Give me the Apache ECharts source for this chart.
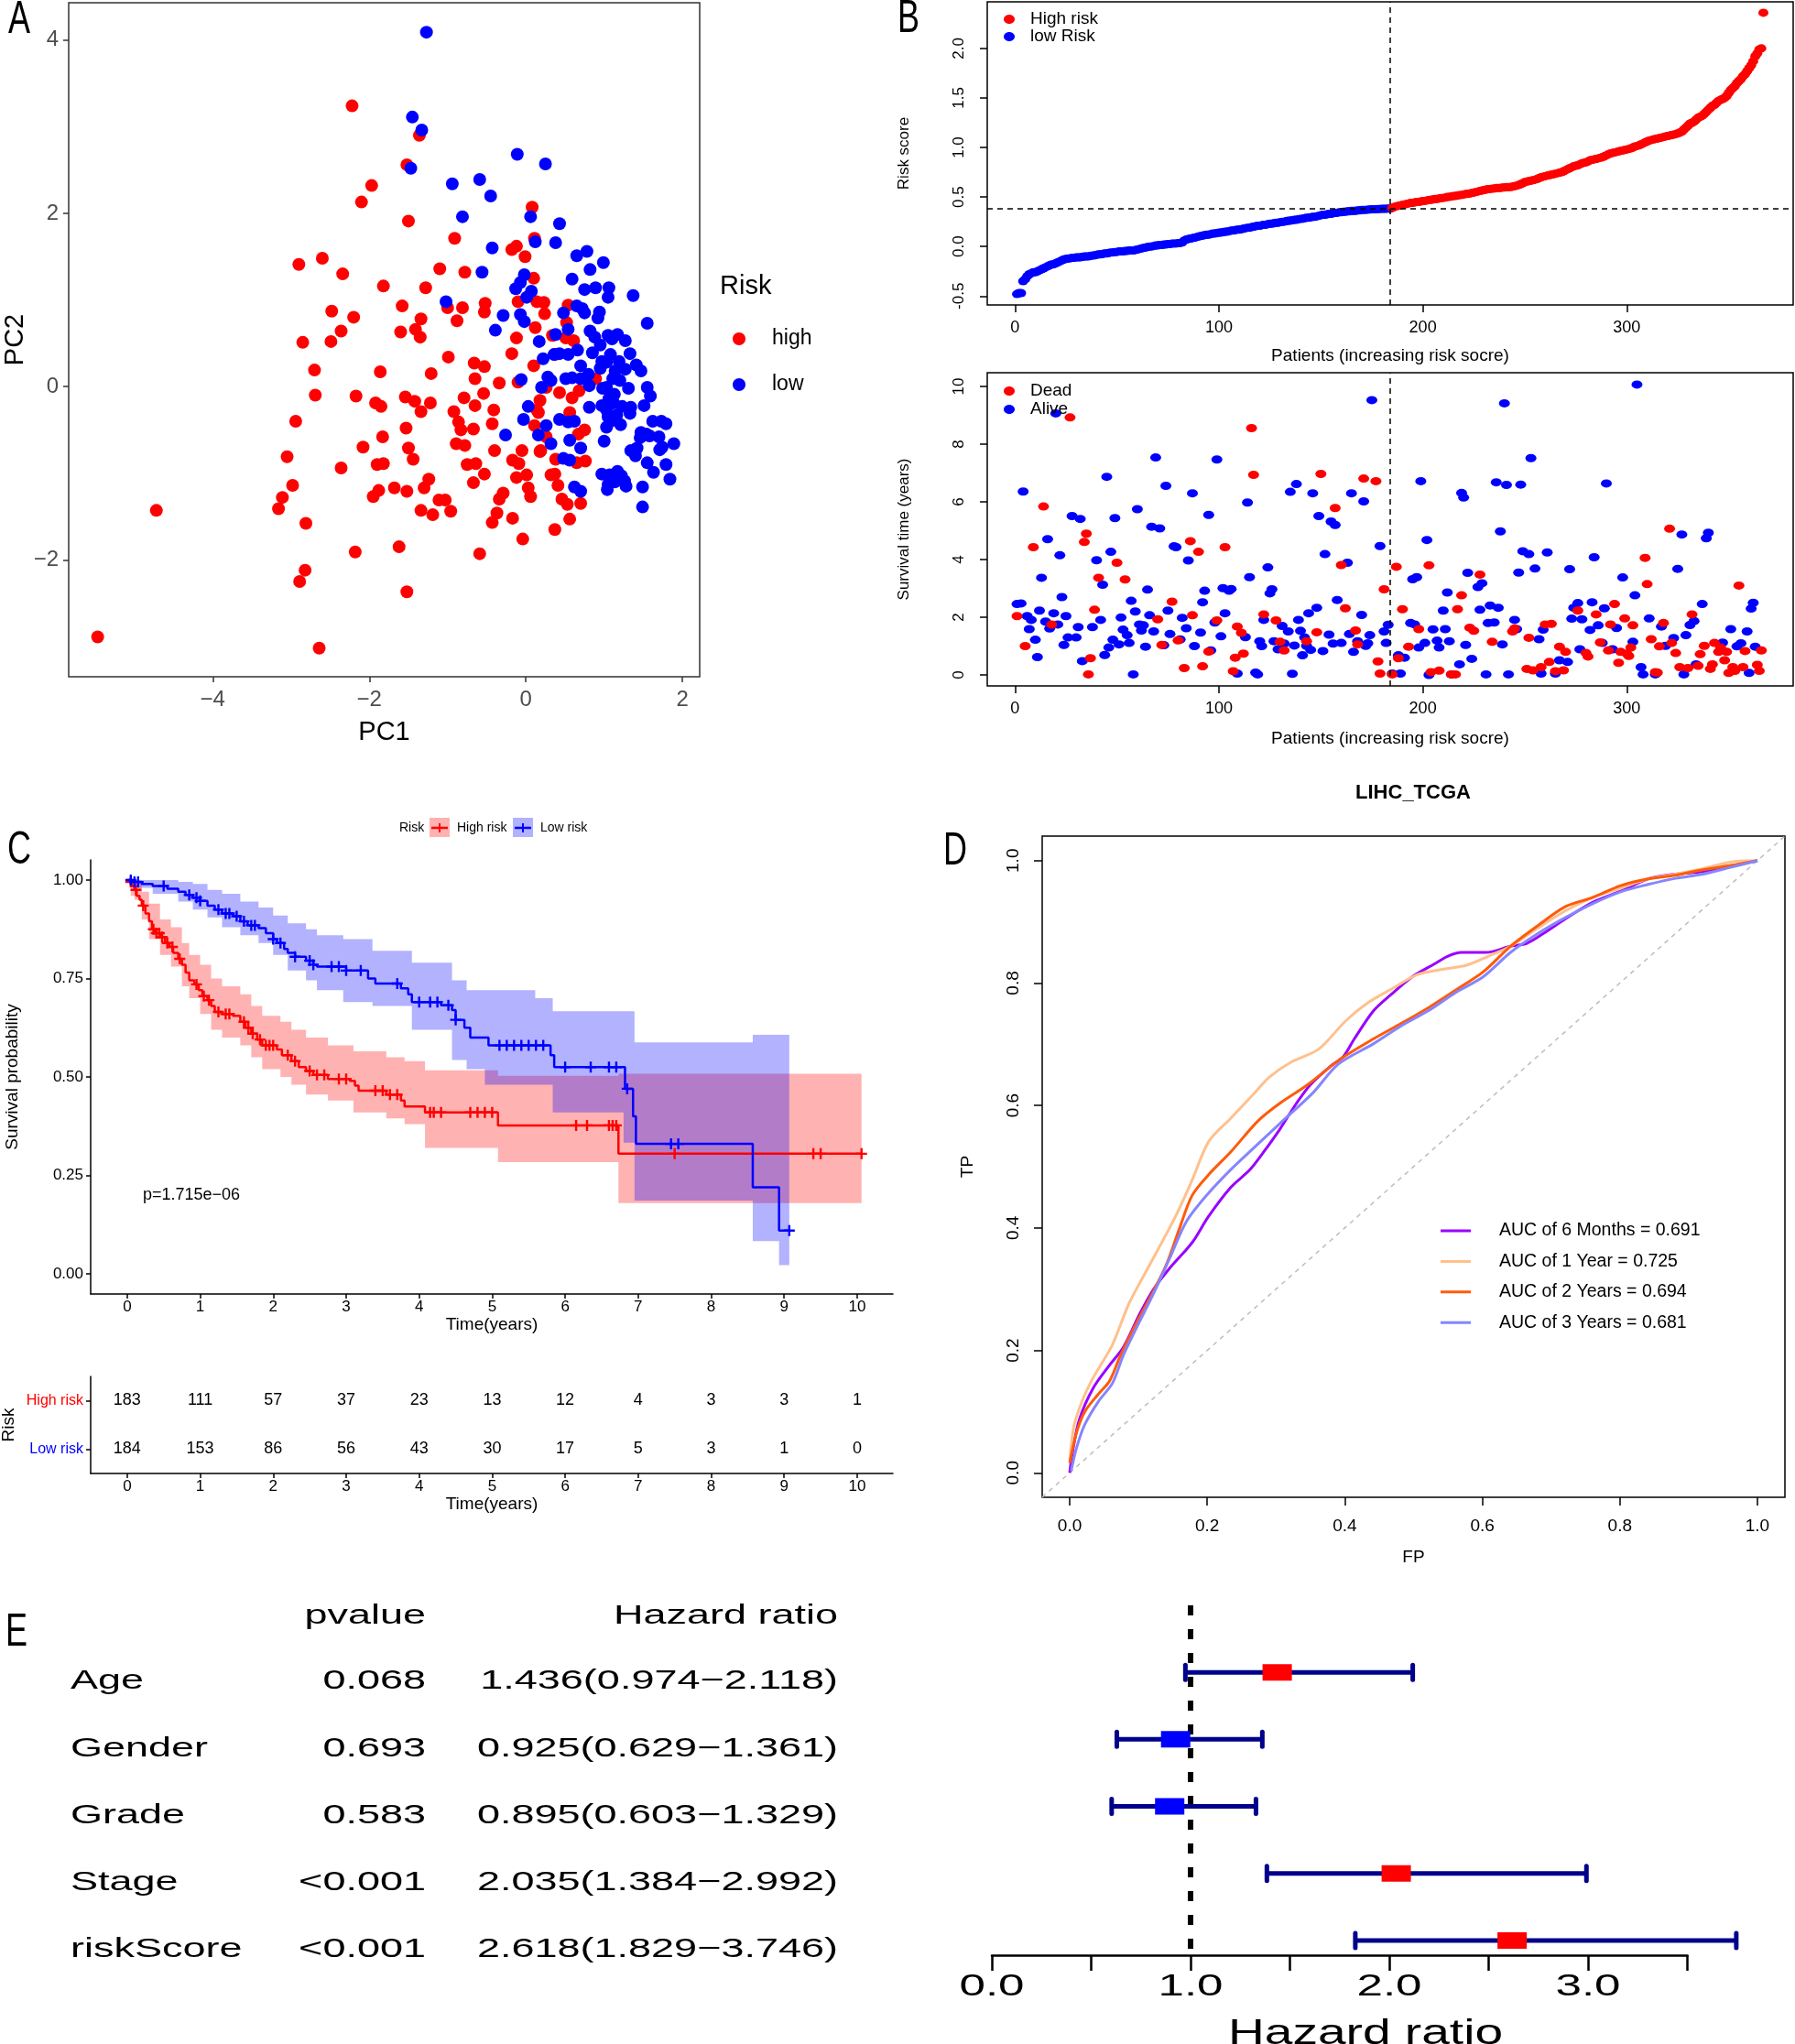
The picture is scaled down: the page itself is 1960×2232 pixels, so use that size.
<!DOCTYPE html>
<html>
<head>
<meta charset="utf-8">
<script src="https://cdn.jsdelivr.net/npm/echarts@6.0.0/dist/echarts.min.js"></script>
<style>
  html, body { margin: 0; padding: 0; background: #fff; }
  #main { width: 1960px; height: 2232px; }
</style>
</head>
<body>
<div id="main"></div>
<script>
var FONT = '"Liberation Sans", Arial, sans-serif';
var RED = '#ff0000', BLUE = '#0000ff';

// ---------- A: PCA ----------
var pcaHigh = [[-5.47,-2.89],[-4.72,-1.43],[-2.64,-3.02],[-2.22,3.24],[-1.36,2.90],[-1.52,2.56],[-1.97,2.32],[-2.10,2.13],[-1.50,1.91],[-0.91,1.71],[-2.90,1.41],[-2.60,1.48],[-2.34,1.30],[-1.82,1.16],[-1.28,1.14],[-1.10,1.36],[-0.78,1.32],[-2.48,0.87],[-2.20,0.80],[-2.36,0.64],[-2.49,0.52],[-2.85,0.51],[-1.58,0.93],[-1.34,0.78],[-1.41,0.66],[-1.60,0.63],[-1.35,0.57],[-1.00,0.91],[-0.81,0.91],[-0.88,0.76],[-0.52,0.96],[-0.53,0.86],[-0.99,0.34],[-0.66,0.27],[-0.53,0.23],[-0.65,0.09],[-0.34,0.04],[-1.21,0.15],[-1.86,0.17],[-2.70,0.19],[-2.69,-0.10],[-2.17,-0.11],[-1.92,-0.19],[-1.85,-0.23],[-1.54,-0.12],[-1.42,-0.17],[-1.22,-0.19],[-1.34,-0.29],[-0.92,-0.29],[-0.79,-0.13],[-0.65,-0.22],[-0.54,-0.08],[-0.41,-0.27],[-0.43,-0.43],[-0.86,-0.41],[-0.83,-0.50],[-0.67,-0.49],[-1.53,-0.48],[-2.94,-0.40],[-1.83,-0.58],[-2.08,-0.70],[-1.50,-0.71],[-1.44,-0.84],[-0.89,-0.66],[-0.78,-0.68],[-0.40,-0.74],[-0.05,-0.74],[-3.05,-0.81],[-2.36,-0.94],[-1.90,-0.90],[-1.82,-0.89],[-0.75,-0.90],[-0.64,-0.89],[-0.53,-1.01],[-0.17,-0.85],[-0.09,-0.89],[-0.12,-1.05],[0.01,-1.02],[0.18,-0.75],[-2.98,-1.14],[-3.11,-1.28],[-3.16,-1.41],[-2.81,-1.58],[-1.95,-1.27],[-1.88,-1.20],[-1.68,-1.17],[-1.52,-1.21],[-1.30,-1.17],[-1.24,-1.07],[-1.11,-1.31],[-1.03,-1.31],[-1.34,-1.43],[-1.19,-1.48],[-0.96,-1.44],[-0.67,-1.11],[-0.34,-1.30],[-0.29,-1.23],[-0.37,-1.46],[-0.43,-1.57],[-0.17,-1.52],[0.03,-1.17],[0.06,-1.27],[0.32,-1.02],[0.37,-1.01],[0.41,-1.14],[0.46,-1.30],[0.53,-1.36],[0.70,-1.35],[0.56,-1.53],[0.37,-1.65],[-0.04,-1.76],[-0.59,-1.93],[-1.62,-1.85],[-2.18,-1.91],[-2.82,-2.12],[-2.89,-2.25],[-1.52,-2.37],[0.08,2.07],[0.11,1.71],[-0.12,1.62],[-0.18,1.58],[-0.01,1.50],[0.10,1.25],[-0.10,0.98],[0.14,0.98],[0.23,0.97],[0.24,0.84],[0.12,0.68],[0.54,0.94],[0.52,0.74],[-0.12,0.56],[-0.18,0.38],[0.34,0.59],[0.51,0.56],[0.61,0.53],[0.10,0.24],[0.37,0.37],[-0.10,0.05],[0.26,-0.01],[0.43,-0.07],[0.59,-0.13],[0.68,-0.05],[0.89,0.09],[0.18,-0.16],[0.56,-0.30],[0.14,-0.27],[0.11,-0.45],[0.16,-0.30],[0.67,-0.55],[0.75,-0.50],[0.26,-0.58],[0.76,-0.86],[0.19,-0.74],[0.38,-0.84],[0.65,-0.88]];
var pcaLow = [[-1.27,4.09],[-1.45,3.11],[-1.33,2.96],[-1.47,2.52],[-0.94,2.34],[-0.59,2.39],[-0.45,2.20],[-0.81,1.96],[-0.11,2.68],[0.25,2.57],[0.06,1.96],[0.43,1.88],[-0.43,1.60],[0.38,1.66],[0.12,1.67],[-0.56,1.32],[0.65,1.51],[0.78,1.56],[0.99,1.43],[0.82,1.35],[0.59,1.24],[0.75,1.12],[0.89,1.14],[1.06,1.14],[1.05,1.03],[1.37,1.05],[1.55,0.73],[-0.02,1.29],[-0.07,1.20],[-0.13,1.13],[0.07,1.10],[0.01,1.03],[-1.02,0.98],[-0.29,0.82],[-0.39,0.65],[-0.07,0.83],[-0.02,0.75],[0.65,0.93],[0.72,0.90],[0.75,0.85],[0.48,0.85],[0.94,0.86],[0.92,0.79],[0.54,0.66],[0.38,0.60],[0.82,0.64],[0.88,0.57],[0.95,0.48],[1.05,0.59],[1.17,0.60],[1.27,0.53],[1.10,0.55],[0.17,0.52],[0.22,0.32],[0.36,0.37],[0.43,0.38],[0.54,0.37],[0.66,0.42],[0.85,0.39],[1.08,0.37],[1.33,0.38],[0.97,0.29],[1.03,0.28],[1.19,0.29],[1.41,0.25],[1.47,0.18],[1.27,0.20],[1.14,0.18],[0.70,0.24],[0.80,0.14],[0.95,0.21],[0.28,0.11],[0.32,0.07],[0.51,0.09],[0.59,0.10],[0.70,0.09],[1.11,0.09],[1.20,0.07],[0.81,0.01],[1.03,-0.01],[1.31,-0.02],[1.55,-0.01],[1.59,-0.11],[1.06,-0.14],[1.13,-0.09],[1.12,-0.19],[1.23,-0.23],[1.34,-0.24],[1.51,-0.22],[0.81,-0.24],[0.97,-0.22],[1.03,-0.27],[1.05,-0.35],[1.16,-0.33],[1.33,-0.31],[1.08,-0.40],[1.21,-0.44],[1.03,-0.47],[1.62,-0.40],[1.73,-0.40],[1.79,-0.43],[1.47,-0.53],[1.54,-0.55],[1.58,-0.57],[1.70,-0.58],[1.46,-0.59],[1.89,-0.66],[1.74,-0.70],[1.42,-0.71],[1.34,-0.74],[1.40,-0.80],[1.71,-0.73],[1.55,-0.88],[1.79,-0.90],[1.63,-0.99],[1.84,-1.07],[0.97,-1.01],[1.07,-1.02],[1.17,-0.98],[1.22,-1.03],[1.05,-1.13],[1.14,-1.10],[1.26,-1.09],[1.04,-1.19],[1.49,-1.16],[1.28,-1.15],[1.49,-1.39],[0.70,-1.21],[0.62,-1.16],[-0.03,-0.38],[-0.26,-0.56],[0.16,-0.56],[0.26,-0.45],[0.32,-0.66],[0.43,-0.38],[0.54,-0.41],[0.62,-0.40],[1.00,-0.63],[0.56,-0.62],[0.70,-0.71],[0.48,-0.83],[0.56,-0.85],[0.20,-0.01],[-0.06,0.08],[0.03,-0.23],[0.98,-0.02]];
var pcaXTicks = [-4, -2, 0, 2];
var pcaYTicks = [-2, 0, 2, 4];

// ---------- B: risk score and survival status ----------
var riskLow = [-0.48,-0.47,-0.47,-0.35,-0.33,-0.30,-0.28,-0.27,-0.26,-0.26,
  -0.25,-0.24,-0.23,-0.22,-0.21,-0.20,-0.19,-0.18,-0.18,-0.17,
  -0.16,-0.15,-0.14,-0.13,-0.125,-0.12,-0.12,-0.115,-0.115,-0.11,
  -0.11,-0.11,-0.105,-0.10,-0.10,-0.10,-0.095,-0.09,-0.09,-0.085,
  -0.08,-0.08,-0.075,-0.07,-0.07,-0.065,-0.06,-0.06,-0.055,-0.055,
  -0.05,-0.05,-0.05,-0.045,-0.045,-0.04,-0.04,-0.04,-0.035,-0.03,
  -0.025,-0.02,-0.015,-0.01,-0.005,0.0,0.0,0.005,0.01,0.01,
  0.015,0.015,0.02,0.02,0.025,0.025,0.03,0.03,0.03,0.035,
  0.035,0.04,0.06,0.07,0.075,0.08,0.085,0.09,0.095,0.10,
  0.105,0.11,0.115,0.12,0.12,0.125,0.13,0.13,0.135,0.14,
  0.14,0.145,0.15,0.15,0.155,0.16,0.16,0.165,0.17,0.17,
  0.175,0.18,0.185,0.19,0.19,0.195,0.20,0.205,0.21,0.21,
  0.215,0.22,0.22,0.225,0.23,0.23,0.235,0.24,0.24,0.245,
  0.25,0.25,0.255,0.26,0.26,0.265,0.27,0.27,0.275,0.28,
  0.28,0.285,0.29,0.29,0.295,0.30,0.30,0.305,0.31,0.315,
  0.32,0.32,0.325,0.33,0.33,0.335,0.34,0.34,0.345,0.345,
  0.35,0.35,0.355,0.355,0.36,0.36,0.36,0.365,0.365,0.37,
  0.37,0.37,0.372,0.374,0.375,0.376,0.377,0.378,0.379,0.38,
  0.38,0.381,0.382,0.383];
var riskHigh = [0.39,0.40,0.405,0.41,0.415,0.42,0.425,0.43,0.435,0.44,
  0.44,0.445,0.45,0.45,0.455,0.46,0.46,0.465,0.47,0.47,
  0.475,0.48,0.48,0.485,0.49,0.49,0.495,0.50,0.50,0.505,
  0.51,0.51,0.515,0.52,0.52,0.525,0.53,0.53,0.535,0.54,
  0.545,0.55,0.555,0.56,0.565,0.57,0.575,0.58,0.58,0.585,
  0.585,0.59,0.59,0.59,0.595,0.595,0.60,0.60,0.60,0.605,
  0.61,0.615,0.62,0.63,0.64,0.65,0.655,0.66,0.665,0.67,
  0.675,0.68,0.69,0.70,0.705,0.71,0.715,0.72,0.725,0.73,
  0.735,0.74,0.745,0.75,0.76,0.77,0.78,0.79,0.80,0.81,
  0.815,0.82,0.83,0.84,0.845,0.85,0.86,0.87,0.875,0.88,
  0.885,0.89,0.895,0.90,0.91,0.92,0.93,0.94,0.945,0.95,
  0.955,0.96,0.965,0.97,0.975,0.98,0.985,0.99,1.00,1.01,
  1.015,1.02,1.03,1.04,1.05,1.06,1.07,1.075,1.08,1.085,
  1.09,1.095,1.10,1.105,1.11,1.115,1.12,1.125,1.13,1.135,
  1.14,1.15,1.16,1.18,1.20,1.22,1.24,1.25,1.26,1.28,
  1.30,1.31,1.32,1.34,1.36,1.38,1.40,1.42,1.43,1.45,
  1.47,1.48,1.49,1.50,1.52,1.55,1.58,1.60,1.62,1.65,
  1.67,1.69,1.72,1.74,1.77,1.80,1.83,1.87,1.92,1.95,
  1.99,2.0,2.36];
var survAlive = [[1,2.46],[3,2.48],[4,6.36],[6,2.04],[7,1.59],[8,1.91],[10,1.22],[11,0.62],[12,2.23],[13,3.37],[15,1.85],[16,4.71],[17,1.61],[19,2.14],[20,9.07],[21,1.75],[22,4.15],[23,2.70],[24,1.04],[25,2.04],[26,1.30],[28,5.51],[30,1.30],[31,1.66],[32,5.41],[33,0.48],[38,1.66],[40,3.98],[42,1.91],[43,3.13],[44,0.69],[45,6.87],[46,0.95],[47,4.27],[48,1.22],[49,5.44],[51,1.06],[52,1.99],[53,1.57],[55,1.38],[56,1.11],[57,2.57],[58,0.02],[59,2.20],[60,5.75],[61,1.75],[62,1.54],[63,1.72],[64,0.98],[65,2.96],[66,2.07],[67,5.14],[68,1.51],[69,7.54],[71,5.08],[73,1.03],[74,6.56],[75,2.23],[76,1.42],[78,4.46],[79,4.43],[81,1.23],[82,1.98],[84,1.62],[85,3.97],[87,6.30],[88,1.00],[91,1.47],[92,2.52],[93,2.92],[95,5.55],[96,0.85],[98,1.82],[99,7.47],[101,1.34],[102,3.01],[103,2.14],[105,2.92],[106,2.98],[109,0.05],[113,1.31],[114,5.98],[115,3.39],[118,0.08],[119,0.02],[120,1.17],[121,1.00],[122,1.91],[124,3.73],[125,2.83],[126,2.97],[127,1.17],[129,0.89],[131,1.70],[132,1.09],[134,1.51],[135,6.35],[136,0.04],[137,1.02],[138,6.62],[139,1.91],[140,1.53],[141,0.68],[142,1.30],[143,1.01],[144,2.14],[145,0.87],[146,6.30],[148,2.33],[149,5.51],[151,0.83],[152,4.19],[154,1.40],[155,5.32],[156,1.09],[157,5.20],[158,2.60],[160,1.11],[163,3.89],[164,1.42],[165,6.30],[166,0.80],[168,1.17],[170,2.08],[171,6.02],[172,1.01],[173,1.10],[174,1.38],[175,9.53],[179,4.47],[181,1.51],[182,1.11],[183,1.74],[185,0.05],[188,0.68],[189,0.05],[191,0.60],[194,1.80],[195,3.32],[196,1.75],[197,3.39],[198,0.95],[199,6.72],[201,1.11],[202,4.68],[203,0.00],[205,1.58],[207,1.19],[208,0.95],[210,2.23],[211,1.59],[212,2.86],[213,1.17],[214,0.02],[218,0.37],[219,6.31],[220,6.15],[221,1.04],[222,3.54],[224,0.56],[227,3.05],[228,2.26],[229,3.18],[231,0.02],[232,1.80],[233,2.41],[235,1.82],[236,6.68],[237,2.33],[238,4.98],[239,1.06],[240,9.42],[241,6.59],[242,0.02],[245,1.91],[246,1.59],[247,3.55],[248,6.60],[249,4.29],[252,4.19],[253,7.52],[255,3.69],[257,1.24],[258,0.05],[259,1.57],[261,4.25],[265,0.05],[267,0.51],[271,0.45],[272,3.67],[273,1.95],[274,2.33],[276,2.49],[277,0.89],[278,1.93],[282,1.56],[283,2.52],[284,4.08],[286,1.72],[288,1.11],[289,2.31],[290,6.64],[293,0.89],[295,1.63],[298,3.38],[303,1.15],[304,2.76],[305,10.07],[307,0.27],[308,0.02],[311,1.96],[314,0.02],[317,1.68],[319,1.01],[323,1.28],[325,3.68],[327,4.87],[328,0.02],[329,1.38],[331,1.73],[333,1.87],[334,0.37],[337,2.46],[339,4.74],[340,4.93],[347,1.12],[351,1.59],[354,0.99],[356,1.10],[359,1.51],[360,0.07],[361,2.30],[362,2.50],[363,0.98]];
var survDead = [[1,2.04],[5,1.00],[9,4.43],[14,5.84],[18,1.75],[27,8.93],[34,4.61],[35,4.90],[36,0.02],[37,0.58],[39,2.26],[41,3.37],[50,3.89],[54,3.31],[70,1.93],[72,1.04],[77,2.54],[80,1.20],[83,0.24],[86,4.64],[87,2.07],[90,4.27],[92,0.30],[95,0.81],[99,1.89],[103,4.43],[107,0.13],[108,0.60],[109,1.68],[111,1.46],[112,0.74],[116,8.56],[117,6.94],[122,2.10],[128,1.89],[130,1.15],[132,0.85],[143,1.17],[148,1.48],[150,6.97],[157,5.79],[160,3.81],[162,2.31],[167,1.54],[168,1.06],[171,6.81],[177,6.72],[178,0.47],[179,0.05],[181,2.97],[185,0.02],[187,3.75],[188,0.58],[190,2.28],[193,0.98],[198,1.59],[203,3.80],[204,0.10],[208,0.15],[214,0.02],[216,0.02],[217,2.28],[219,2.76],[223,1.64],[225,1.53],[228,3.48],[234,1.15],[244,1.51],[245,1.61],[251,0.21],[252,1.29],[254,0.16],[258,0.27],[260,1.75],[262,0.45],[263,1.77],[265,0.13],[267,0.98],[269,0.16],[270,0.80],[276,2.23],[280,0.76],[281,0.64],[285,2.10],[287,1.13],[291,0.85],[292,1.75],[294,2.46],[296,0.42],[297,0.80],[299,1.96],[300,0.74],[301,0.66],[302,0.95],[303,1.72],[309,4.06],[310,3.15],[312,1.24],[314,0.10],[315,0.08],[316,0.99],[318,1.80],[321,5.07],[322,1.11],[324,0.76],[326,0.27],[330,0.24],[332,2.10],[335,0.32],[336,0.72],[338,1.01],[341,0.21],[342,0.37],[343,1.11],[345,0.80],[346,0.95],[348,0.51],[349,0.80],[350,0.07],[352,0.27],[353,0.14],[355,3.10],[357,0.27],[358,0.83],[364,0.35],[365,0.14],[366,0.85]];
var patientTicks = [0, 100, 200, 300];
var riskTicks = [-0.5, 0, 0.5, 1, 1.5, 2];
var survTicks = [0, 2, 4, 6, 8, 10];

// ---------- C: Kaplan-Meier ----------
var kmHigh = [[0,1],[0.03,0.995],[0.06,0.985],[0.1,0.975],[0.13,0.96],[0.17,0.95],[0.2,0.935],[0.25,0.915],[0.3,0.895],[0.34,0.875],[0.38,0.865],[0.45,0.855],[0.52,0.84],[0.58,0.83],[0.63,0.815],[0.7,0.80],[0.75,0.785],[0.8,0.765],[0.85,0.745],[0.92,0.735],[0.98,0.72],[1.03,0.705],[1.1,0.695],[1.15,0.68],[1.2,0.665],[1.3,0.66],[1.45,0.655],[1.55,0.64],[1.62,0.625],[1.7,0.61],[1.78,0.595],[1.85,0.58],[2.05,0.57],[2.12,0.555],[2.25,0.54],[2.35,0.525],[2.45,0.515],[2.55,0.505],[2.75,0.495],[3.05,0.49],[3.12,0.478],[3.17,0.465],[3.55,0.455],[3.75,0.44],[3.8,0.425],[4.08,0.41],[5.08,0.377],[6.73,0.305],[10.06,0.305]];
var kmLow = [[0,1],[0.08,0.995],[0.2,0.99],[0.35,0.985],[0.55,0.978],[0.7,0.97],[0.8,0.962],[0.9,0.955],[1.0,0.947],[1.1,0.935],[1.2,0.925],[1.3,0.915],[1.45,0.908],[1.55,0.895],[1.65,0.885],[1.8,0.878],[1.9,0.865],[2.0,0.85],[2.05,0.84],[2.15,0.825],[2.2,0.815],[2.3,0.805],[2.45,0.795],[2.55,0.785],[2.6,0.78],[3.0,0.77],[3.3,0.75],[3.4,0.737],[3.75,0.725],[3.85,0.71],[3.9,0.69],[4.3,0.682],[4.45,0.67],[4.5,0.645],[4.62,0.625],[4.7,0.60],[4.95,0.58],[5.8,0.555],[5.85,0.525],[6.82,0.47],[6.93,0.40],[6.97,0.33],[8.57,0.22],[8.93,0.11],[9.07,0.11]];
// [time, lower, upper]
var ciHigh = [[0,1,1],[0.05,0.96,1.0],[0.1,0.95,0.99],[0.2,0.90,0.97],[0.3,0.85,0.94],[0.45,0.81,0.90],[0.6,0.78,0.88],[0.75,0.73,0.84],[0.85,0.70,0.81],[1.0,0.66,0.785],[1.15,0.62,0.75],[1.3,0.60,0.73],[1.55,0.58,0.71],[1.7,0.55,0.68],[1.85,0.52,0.655],[2.1,0.50,0.64],[2.25,0.48,0.62],[2.45,0.455,0.60],[2.75,0.44,0.58],[3.1,0.41,0.565],[3.55,0.395,0.55],[3.8,0.38,0.54],[4.08,0.32,0.517],[5.08,0.284,0.503],[6.73,0.18,0.508],[10.06,0.18,0.508]];
var ciLow = [[0,1,1],[0.08,0.98,1.0],[0.35,0.965,1.0],[0.7,0.945,0.995],[0.9,0.925,0.99],[1.1,0.905,0.975],[1.3,0.88,0.965],[1.55,0.86,0.945],[1.8,0.84,0.93],[2.0,0.81,0.91],[2.2,0.77,0.89],[2.45,0.745,0.875],[2.6,0.72,0.86],[2.96,0.69,0.85],[3.36,0.68,0.82],[3.9,0.62,0.79],[4.45,0.543,0.745],[4.65,0.52,0.72],[4.9,0.48,0.72],[5.59,0.48,0.70],[5.83,0.41,0.667],[6.8,0.333,0.667],[6.95,0.186,0.588],[8.57,0.083,0.607],[8.93,0.022,0.607],[9.07,0.022,0.607]];
var censorHigh = [0.05,0.12,0.22,0.36,0.4,0.44,0.48,0.55,0.62,0.72,0.95,1.05,1.12,1.25,1.35,1.4,1.6,1.66,1.72,1.82,1.9,1.95,2.0,2.2,2.3,2.5,2.6,2.7,2.9,3.0,3.4,3.5,3.6,3.7,4.15,4.2,4.3,4.7,4.8,4.9,5.0,6.15,6.3,6.6,6.65,6.7,7.5,9.4,9.5,10.06];
var censorLow = [0.05,0.1,0.15,0.5,0.85,0.95,1.0,1.25,1.35,1.4,1.5,1.6,1.7,1.75,2.0,2.1,2.3,2.5,2.55,2.8,2.9,3.0,3.2,3.7,4.0,4.15,4.25,4.4,4.5,5.1,5.2,5.3,5.4,5.5,5.6,5.7,6.0,6.35,6.6,6.7,6.85,7.45,7.55,9.07];
var kmTimes = [0,1,2,3,4,5,6,7,8,9,10];
var atRiskHigh = [183,111,57,37,23,13,12,4,3,3,1];
var atRiskLow = [184,153,86,56,43,30,17,5,3,1,0];
var kmYTicks = [0, 0.25, 0.5, 0.75, 1];
var riskGroups = ['High risk', 'Low risk'];
var pText = 'p=1.715e\u221206';

// ---------- D: ROC ----------
var roc6m = [[0,0],[0.004,0.033],[0.014,0.087],[0.034,0.138],[0.058,0.176],[0.078,0.205],[0.102,0.26],[0.122,0.30],[0.146,0.335],[0.166,0.36],[0.18,0.379],[0.202,0.419],[0.234,0.466],[0.262,0.495],[0.282,0.524],[0.306,0.562],[0.33,0.604],[0.35,0.634],[0.378,0.663],[0.398,0.68],[0.414,0.709],[0.442,0.755],[0.466,0.78],[0.498,0.81],[0.53,0.831],[0.55,0.844],[0.57,0.85],[0.605,0.85],[0.641,0.86],[0.665,0.865],[0.689,0.881],[0.721,0.905],[0.761,0.932],[0.801,0.95],[0.841,0.97],[0.881,0.978],[0.921,0.982],[0.961,0.991],[1,1]];
var roc1y = [[0,0.02],[0.006,0.075],[0.018,0.117],[0.034,0.155],[0.062,0.209],[0.086,0.276],[0.114,0.335],[0.154,0.419],[0.178,0.478],[0.202,0.541],[0.234,0.579],[0.266,0.617],[0.29,0.646],[0.322,0.671],[0.362,0.692],[0.402,0.739],[0.434,0.768],[0.466,0.789],[0.506,0.814],[0.546,0.823],[0.577,0.829],[0.609,0.844],[0.641,0.86],[0.681,0.89],[0.721,0.918],[0.761,0.94],[0.801,0.955],[0.841,0.97],[0.881,0.978],[0.921,0.987],[0.969,0.999],[1,1]];
var roc2y = [[0,0.016],[0.01,0.066],[0.022,0.10],[0.042,0.129],[0.058,0.15],[0.074,0.192],[0.098,0.247],[0.122,0.297],[0.142,0.344],[0.158,0.394],[0.178,0.453],[0.202,0.487],[0.234,0.524],[0.274,0.575],[0.306,0.604],[0.346,0.634],[0.394,0.676],[0.442,0.709],[0.482,0.734],[0.522,0.76],[0.562,0.789],[0.601,0.818],[0.641,0.86],[0.681,0.894],[0.721,0.925],[0.761,0.94],[0.801,0.959],[0.841,0.97],[0.881,0.976],[0.921,0.985],[0.961,0.992],[1,1]];
var roc3y = [[0.002,0.003],[0.01,0.041],[0.022,0.079],[0.042,0.117],[0.062,0.146],[0.078,0.192],[0.098,0.239],[0.122,0.293],[0.146,0.352],[0.17,0.411],[0.202,0.457],[0.234,0.495],[0.266,0.529],[0.306,0.571],[0.354,0.621],[0.39,0.667],[0.442,0.701],[0.482,0.73],[0.522,0.755],[0.562,0.785],[0.601,0.81],[0.641,0.85],[0.681,0.881],[0.721,0.907],[0.761,0.93],[0.801,0.949],[0.841,0.961],[0.881,0.971],[0.921,0.978],[0.961,0.989],[1,1]];
var rocNames = ['AUC of 6 Months = 0.691', 'AUC of 1 Year = 0.725', 'AUC of 2 Years = 0.694', 'AUC of 3 Years = 0.681'];
var rocColors = ['#9a00ff', '#ffc08c', '#ff5a0a', '#8585ff'];
var rocTicks = [0, 0.2, 0.4, 0.6, 0.8, 1];

// ---------- E: forest ----------
var forestVars = ['Age', 'Gender', 'Grade', 'Stage', 'riskScore'];
var forestP = ['0.068', '0.693', '0.583', '<0.001', '<0.001'];
var forestHR = [1.436, 0.925, 0.895, 2.035, 2.618];
var forestLo = [0.974, 0.629, 0.603, 1.384, 1.829];
var forestHi = [2.118, 1.361, 1.329, 2.992, 3.746];
var forestLabelTicks = [0, 1, 2, 3];

// ================= build =================
function merge(a, b) {
  var o = {}, k;
  for (k in a) o[k] = a[k];
  for (k in b) {
    if (b[k] && typeof b[k] === 'object' && !Array.isArray(b[k]) && a[k] && typeof a[k] === 'object') o[k] = merge(a[k], b[k]);
    else o[k] = b[k];
  }
  return o;
}
function stepAt(curve, t) {
  var s = curve[0][1];
  for (var i = 0; i < curve.length; i++) if (curve[i][0] <= t) s = curve[i][1];
  return s;
}
function idxData(vals, start) {
  return vals.map(function (v, i) { return [start + i, v]; });
}
var G = [];
function txt(x, y, s, size, o) {
  o = o || {};
  G.push({ type: 'text', x: x, y: y, rotation: o.rot || 0, scaleX: o.sx || 1, z: 100,
    style: { text: s, x: 0, y: 0, fill: o.color || '#000', font: (o.weight || 'normal') + ' ' + size + 'px ' + FONT,
      align: o.align || 'left', verticalAlign: 'middle', legacy: false } });
}
function dot(x, y, rx, ry, color) {
  G.push({ type: 'ellipse', shape: { cx: x, cy: y, rx: rx, ry: ry }, style: { fill: color }, z: 100 });
}

var base = {
  type: 'value', splitLine: { show: false }, nameLocation: 'middle',
  axisLine: { show: false, onZero: false },
  axisTick: { show: true, length: 8, lineStyle: { color: '#000', width: 1.5 } },
  axisLabel: { color: '#000', fontSize: 18, fontFamily: FONT },
  nameTextStyle: { color: '#000', fontSize: 18, fontFamily: FONT }
};
function ax(o) { return merge(base, o); }
function boxGrid(l, t, w, h, col) {
  return { left: l, top: t, width: w, height: h, show: true, borderColor: col || '#000', borderWidth: 1.5,
    backgroundColor: 'transparent', containLabel: false, outerBoundsMode: 'none' };
}

var grids = [
  boxGrid(75, 3, 689, 736, '#333'),          // A
  boxGrid(1078, 2, 880, 331),                 // B top
  boxGrid(1078, 407, 880, 342),               // B bottom
  { left: 99, top: 939, width: 876, height: 474, outerBoundsMode: 'none' },   // C km
  { left: 99, top: 1503, width: 876, height: 106, outerBoundsMode: 'none' },  // C table
  boxGrid(1138, 913, 811, 722),               // D
  { left: 1083, top: 1753, width: 759.5, height: 382, outerBoundsMode: 'none' } // E
];

var fmtMinus = function (v) { return String(v).replace('-', '\u2212'); };
var xAxes = [
  ax({ gridIndex: 0, min: -5.84, max: 2.22, name: 'PC1', nameGap: 46,
    axisTick: { customValues: pcaXTicks, length: 6, lineStyle: { color: '#333' } },
    axisLabel: { customValues: pcaXTicks, formatter: fmtMinus, color: '#4d4d4d', fontSize: 24, margin: 13 },
    nameTextStyle: { fontSize: 29 } }),
  ax({ gridIndex: 1, min: -13.6, max: 381.6, name: 'Patients (increasing risk socre)', nameGap: 46,
    axisTick: { customValues: patientTicks }, axisLabel: { customValues: patientTicks, margin: 16 },
    nameTextStyle: { fontSize: 19 } }),
  ax({ gridIndex: 2, min: -13.6, max: 381.6, name: 'Patients (increasing risk socre)', nameGap: 48,
    axisTick: { customValues: patientTicks }, axisLabel: { customValues: patientTicks, margin: 16 },
    nameTextStyle: { fontSize: 19 } }),
  ax({ gridIndex: 3, min: -0.5, max: 10.49, name: 'Time(years)', nameGap: 24,
    axisLine: { show: true, lineStyle: { color: '#000', width: 1.5 } },
    axisTick: { customValues: kmTimes, length: 5 }, axisLabel: { customValues: kmTimes, fontSize: 17, margin: 6 },
    nameTextStyle: { fontSize: 19 } }),
  ax({ gridIndex: 4, min: -0.5, max: 10.49, name: 'Time(years)', nameGap: 24,
    axisLine: { show: true, lineStyle: { color: '#000', width: 1.5 } },
    axisTick: { customValues: kmTimes, length: 5 }, axisLabel: { customValues: kmTimes, fontSize: 17, margin: 6 },
    nameTextStyle: { fontSize: 19 } }),
  ax({ gridIndex: 5, min: -0.04, max: 1.04, name: 'FP', nameGap: 56,
    axisTick: { customValues: rocTicks, length: 9 },
    axisLabel: { customValues: rocTicks, formatter: function (v) { return v.toFixed(1); }, fontSize: 19, margin: 22 },
    nameTextStyle: { fontSize: 19 } }),
  ax({ gridIndex: 6, min: 0, max: 3.5, interval: 0.5,
    axisLine: { show: true, lineStyle: { color: '#000', width: 2.5 } },
    axisTick: { length: 17, lineStyle: { width: 2.5 } }, axisLabel: { show: false } })
];
var yAxes = [
  ax({ gridIndex: 0, min: -3.35, max: 4.43, name: 'PC2', nameGap: 44,
    axisTick: { customValues: pcaYTicks, length: 6, lineStyle: { color: '#333' } },
    axisLabel: { customValues: pcaYTicks, formatter: fmtMinus, color: '#4d4d4d', fontSize: 24, margin: 11 },
    nameTextStyle: { fontSize: 29 } }),
  ax({ gridIndex: 1, min: -0.59, max: 2.47, name: 'Risk score', nameGap: 82,
    axisTick: { customValues: riskTicks },
    axisLabel: { customValues: riskTicks, rotate: 90, formatter: function (v) { return v.toFixed(1); }, fontSize: 17, margin: 22 },
    nameTextStyle: { fontSize: 17 } }),
  ax({ gridIndex: 2, min: -0.38, max: 10.48, name: 'Survival time (years)', nameGap: 82,
    axisTick: { customValues: survTicks },
    axisLabel: { customValues: survTicks, rotate: 90, fontSize: 17, margin: 22 },
    nameTextStyle: { fontSize: 17 } }),
  ax({ gridIndex: 3, min: -0.051, max: 1.051, name: 'Survival probability', nameGap: 76,
    axisLine: { show: true, lineStyle: { color: '#000', width: 1.5 } },
    axisTick: { customValues: kmYTicks, length: 5 },
    axisLabel: { customValues: kmYTicks, formatter: function (v) { return v.toFixed(2); }, fontSize: 17, margin: 8 },
    nameTextStyle: { fontSize: 19 } }),
  merge(base, { type: 'category', gridIndex: 4, data: riskGroups, inverse: true, name: 'Risk', nameGap: 80,
    axisLine: { show: true, lineStyle: { color: '#000', width: 1.5 } },
    axisTick: { alignWithLabel: true, length: 5 },
    axisLabel: { fontSize: 16, margin: 8, color: function (v, i) { return i === 0 ? RED : BLUE; } },
    nameTextStyle: { fontSize: 19 } }),
  ax({ gridIndex: 5, min: -0.04, max: 1.04, name: 'TP', nameGap: 72,
    axisTick: { customValues: rocTicks, length: 9 },
    axisLabel: { customValues: rocTicks, rotate: 90, formatter: function (v) { return v.toFixed(1); }, fontSize: 19, margin: 22 },
    nameTextStyle: { fontSize: 19 } }),
  ax({ gridIndex: 6, min: 0, max: 5.22, inverse: true, show: false })
];

var plusPath = 'path://M4,0H6V4H10V6H6V10H4V6H0V4H4Z';
function bandSeries(band, color) {
  return { type: 'custom', xAxisIndex: 3, yAxisIndex: 3, silent: true, z: 1, data: [[0, 0]],
    renderItem: function (params, api) {
      var top = [], bot = [];
      for (var i = 0; i < band.length; i++) {
        var t1 = i + 1 < band.length ? band[i + 1][0] : band[i][0];
        top.push(api.coord([band[i][0], band[i][2]]), api.coord([t1, band[i][2]]));
        bot.push(api.coord([band[i][0], band[i][1]]), api.coord([t1, band[i][1]]));
      }
      return { type: 'polygon', shape: { points: top.concat(bot.reverse()) }, style: { fill: color } };
    } };
}
function tableSeries(counts, row) {
  return { type: 'custom', xAxisIndex: 4, yAxisIndex: 4, silent: true,
    data: kmTimes.map(function (t, i) { return [t, row, counts[i]]; }),
    renderItem: function (params, api) {
      var p = api.coord([api.value(0), row]);
      return { type: 'text', x: p[0], y: p[1], style: { text: String(api.value(2)), x: 0, y: 0, fill: '#000',
        font: '18px ' + FONT, align: 'center', verticalAlign: 'middle', legacy: false } };
    } };
}

var cutoff = riskLow.length;
var allRisk = riskLow.concat(riskHigh).slice().sort(function (a, b) { return a - b; });
var medianRisk = allRisk[Math.floor(allRisk.length / 2)];
var dashed = { color: '#000', width: 1.5, type: [6, 5] };
var solid = function (c) { return { color: c, opacity: 1 }; };

var series = [
  // A
  { type: 'scatter', xAxisIndex: 0, yAxisIndex: 0, data: pcaHigh, symbolSize: 14, itemStyle: solid(RED) },
  { type: 'scatter', xAxisIndex: 0, yAxisIndex: 0, data: pcaLow, symbolSize: 14, itemStyle: solid(BLUE) },
  // B top
  { type: 'scatter', xAxisIndex: 1, yAxisIndex: 1, data: idxData(riskLow, 1), symbolSize: [11, 9], itemStyle: solid(BLUE),
    markLine: { silent: true, symbol: ['none', 'none'], label: { show: false }, lineStyle: dashed,
      data: [{ xAxis: cutoff }, { yAxis: medianRisk }] } },
  { type: 'scatter', xAxisIndex: 1, yAxisIndex: 1, data: idxData(riskHigh, cutoff + 1), symbolSize: [11, 9], itemStyle: solid(RED) },
  // B bottom
  { type: 'scatter', xAxisIndex: 2, yAxisIndex: 2, data: survAlive, symbolSize: [12, 9], itemStyle: solid(BLUE),
    markLine: { silent: true, symbol: ['none', 'none'], label: { show: false }, lineStyle: dashed, data: [{ xAxis: cutoff }] } },
  { type: 'scatter', xAxisIndex: 2, yAxisIndex: 2, data: survDead, symbolSize: [12, 9], itemStyle: solid(RED) },
  // C
  bandSeries(ciHigh, 'rgba(255,0,0,0.3)'),
  bandSeries(ciLow, 'rgba(0,0,255,0.3)'),
  { type: 'line', xAxisIndex: 3, yAxisIndex: 3, step: 'end', data: kmHigh, symbol: 'none', z: 3, lineStyle: { color: RED, width: 2.5 } },
  { type: 'line', xAxisIndex: 3, yAxisIndex: 3, step: 'end', data: kmLow, symbol: 'none', z: 3, lineStyle: { color: BLUE, width: 2.5 } },
  { type: 'scatter', xAxisIndex: 3, yAxisIndex: 3, z: 4, symbol: plusPath, symbolSize: 12, itemStyle: solid(RED),
    data: censorHigh.map(function (t) { return [t, stepAt(kmHigh, t)]; }) },
  { type: 'scatter', xAxisIndex: 3, yAxisIndex: 3, z: 4, symbol: plusPath, symbolSize: 12, itemStyle: solid(BLUE),
    data: censorLow.map(function (t) { return [t, stepAt(kmLow, t)]; }) },
  tableSeries(atRiskHigh, 0),
  tableSeries(atRiskLow, 1),
  // D
  { type: 'line', xAxisIndex: 5, yAxisIndex: 5, data: [[-0.04, -0.04], [1.04, 1.04]], symbol: 'none',
    lineStyle: { color: '#bdbdbd', width: 1.5, type: [5, 5] } }
];
[roc6m, roc1y, roc2y, roc3y].forEach(function (d, i) {
  series.push({ type: 'line', xAxisIndex: 5, yAxisIndex: 5, data: d, symbol: 'none', smooth: 0.3,
    lineStyle: { color: rocColors[i], width: 3 } });
});
// E
var forestYMax = 5.22;
series.push({ type: 'line', xAxisIndex: 6, yAxisIndex: 6, data: [[1, 0], [1, forestYMax]], symbol: 'none', z: 2,
  lineStyle: { color: '#000', width: 6, type: [11, 15] } });
series.push({ type: 'custom', xAxisIndex: 6, yAxisIndex: 6, z: 5, silent: true,
  data: forestHR.map(function (h, i) { return [h, forestLo[i], forestHi[i], i + 1]; }),
  encode: { x: [0, 1, 2], y: 3 },
  renderItem: function (params, api) {
    var pl = api.coord([api.value(1), api.value(3)]), ph = api.coord([api.value(2), api.value(3)]),
        pm = api.coord([api.value(0), api.value(3)]);
    var navy = { stroke: '#00008b', lineWidth: 5, lineCap: 'round' };
    return { type: 'group', children: [
      { type: 'line', shape: { x1: pl[0], y1: pl[1], x2: ph[0], y2: ph[1] }, style: { stroke: '#00008b', lineWidth: 5 } },
      { type: 'line', shape: { x1: pl[0], y1: pl[1] - 8, x2: pl[0], y2: pl[1] + 8 }, style: navy },
      { type: 'line', shape: { x1: ph[0], y1: ph[1] - 8, x2: ph[0], y2: ph[1] + 8 }, style: navy },
      { type: 'rect', shape: { x: pm[0] - 16, y: pm[1] - 9, width: 32, height: 18 },
        style: { fill: api.value(0) > 1 ? RED : BLUE } }
    ] };
  } });
series.push({ type: 'custom', xAxisIndex: 6, yAxisIndex: 6, silent: true,
  data: forestLabelTicks.map(function (v) { return [v, forestYMax]; }),
  renderItem: function (params, api) {
    var p = api.coord([api.value(0), api.value(1)]);
    return { type: 'text', x: p[0], y: p[1] + 35, scaleX: 1.55,
      style: { text: api.value(0).toFixed(1), x: 0, y: 0, fill: '#000', font: '33px ' + FONT,
        align: 'center', verticalAlign: 'middle', legacy: false } };
  } });

// ---------- text and legends ----------
['A', 'B', 'C', 'D', 'E'].forEach(function (l, i) {
  var pos = [[21, 22], [992, 21], [21, 929], [1043, 930], [18, 1783]][i];
  txt(pos[0], pos[1], l, 50, { sx: 0.72, align: 'center' });
});
// A legend
txt(786, 313, 'Risk', 29);
dot(807, 370, 7, 7, RED); txt(843, 370, 'high', 23);
dot(807, 420, 7, 7, BLUE); txt(843, 420, 'low', 23);
// B legends
dot(1102, 21, 6, 5, RED); txt(1125, 21, 'High risk', 19);
dot(1102, 40, 6, 5, BLUE); txt(1125, 40, 'low Risk', 19);
dot(1102, 427, 6, 5, RED); txt(1125, 427, 'Dead', 19);
dot(1102, 447, 6, 5, BLUE); txt(1125, 447, 'Alive', 19);
// C legend
txt(436, 904, 'Risk', 14);
[[469, RED, 'rgba(255,0,0,0.3)', riskGroups[0]], [560, BLUE, 'rgba(0,0,255,0.3)', riskGroups[1]]].forEach(function (k) {
  G.push({ type: 'rect', shape: { x: k[0], y: 893, width: 22, height: 21 }, style: { fill: k[2] }, z: 100 });
  G.push({ type: 'line', shape: { x1: k[0] + 2, y1: 904, x2: k[0] + 20, y2: 904 }, style: { stroke: k[1], lineWidth: 2.5 }, z: 101 });
  G.push({ type: 'line', shape: { x1: k[0] + 11, y1: 899, x2: k[0] + 11, y2: 909 }, style: { stroke: k[1], lineWidth: 2 }, z: 101 });
  txt(k[0] + 30, 904, k[3], 14);
});
txt(156, 1305, pText, 18);
// D title and legend
txt(1543, 866, 'LIHC_TCGA', 22, { weight: 'bold', align: 'center' });
rocNames.forEach(function (n, i) {
  var y = 1344 + i * 33.4;
  G.push({ type: 'line', shape: { x1: 1573, y1: y, x2: 1606, y2: y }, style: { stroke: rocColors[i], lineWidth: 3 }, z: 100 });
  txt(1637, y, n, 19.5);
});
// E table
var rowPx = grids[6].height / forestYMax;
txt(465, 1765, 'pvalue', 30, { sx: 1.5, align: 'right' });
txt(915, 1765, 'Hazard ratio', 30, { sx: 1.5, align: 'right' });
forestVars.forEach(function (v, i) {
  var y = grids[6].top + (i + 1) * rowPx + 10;
  txt(77, y, v, 30, { sx: 1.5 });
  txt(465, y, forestP[i], 30, { sx: 1.5, align: 'right' });
  txt(915, y, forestHR[i].toFixed(3) + '(' + forestLo[i].toFixed(3) + '\u2212' + forestHi[i].toFixed(3) + ')', 30, { sx: 1.5, align: 'right' });
});
txt(1491, 2222, 'Hazard ratio', 38, { sx: 1.45, align: 'center' });

var chart = echarts.init(document.getElementById('main'), null, { renderer: 'canvas', width: 1960, height: 2232 });
chart.setOption({
  backgroundColor: '#fff',
  animation: false,
  textStyle: { fontFamily: FONT },
  grid: grids,
  xAxis: xAxes,
  yAxis: yAxes,
  series: series,
  graphic: G
});
</script>
</body>
</html>
